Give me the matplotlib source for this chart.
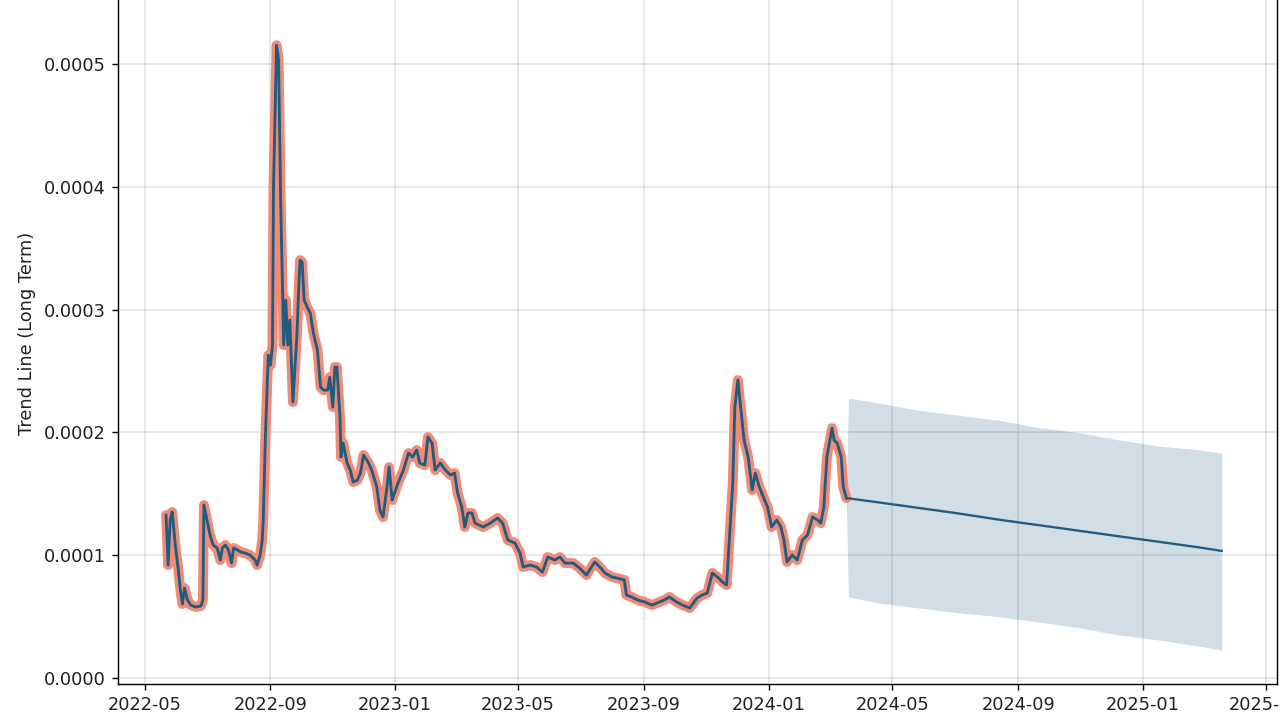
import numpy as np
import pandas as pd
import matplotlib
matplotlib.use("Agg")
import matplotlib.pyplot as plt
import matplotlib.dates as mdates
from matplotlib.ticker import FormatStrFormatter

# ---------------- data ----------------
origin = pd.Timestamp("2022-05-01")   # day offsets below count from this date
unit = 1e-4                           # values below are in units of 1e-4

hist_days = [21, 23, 25, 27, 30, 33, 35, 37, 39, 42, 45, 50, 55, 57, 58, 60, 61, 64, 67, 71,
             74, 76, 79, 82, 85, 87, 91, 94, 98, 103, 108, 110, 113, 115, 116, 118, 120, 121, 123, 125,
             126, 129, 131, 133, 135, 136, 138, 140, 142, 145, 149, 151, 152, 154, 156, 159, 162, 165, 169, 172,
             175, 179, 181, 184, 186, 188, 191, 192, 194, 198, 201, 204, 208, 211, 214, 219, 222, 227, 230, 233,
             237, 239, 242, 247, 253, 258, 262, 266, 269, 274, 277, 281, 284, 289, 294, 299, 303, 306, 310, 313,
             316, 320, 323, 331, 338, 345, 350, 355, 362, 367, 370, 377, 383, 389, 394, 401, 406, 411, 419, 425,
             432, 440, 445, 450, 457, 462, 469, 471, 476, 482, 489, 496, 501, 508, 513, 520, 526, 533, 540, 545,
             550, 555, 560, 565, 569, 572, 575, 577, 580, 583, 586, 590, 594, 597, 601, 606, 609, 613, 618, 622,
             625, 628, 633, 638, 643, 648, 653, 658, 661, 664, 667, 672, 674, 677, 681, 683, 686]
hist_vals = [1.327, 0.920, 1.287, 1.352, 1.083, 0.879, 0.717, 0.603, 0.733, 0.635, 0.594, 0.578, 0.586, 0.635, 1.409, 1.327, 1.287, 1.164, 1.083, 1.059,
             0.961, 1.059, 1.083, 1.042, 0.936, 1.059, 1.042, 1.026, 1.018, 1.002, 0.961, 0.920, 1.002, 1.124, 1.287, 1.938, 2.427, 2.630, 2.549, 2.712,
             3.998, 5.155, 5.033, 3.893, 3.078, 2.712, 3.078, 2.712, 2.915, 2.248, 2.809, 3.241, 3.404, 3.388, 3.078, 3.021, 2.972, 2.809, 2.671, 2.370,
             2.345, 2.345, 2.451, 2.207, 2.533, 2.533, 2.125, 1.800, 1.914, 1.751, 1.694, 1.596, 1.612, 1.669, 1.816, 1.751, 1.694, 1.555, 1.368, 1.311,
             1.555, 1.718, 1.450, 1.572, 1.694, 1.832, 1.800, 1.857, 1.751, 1.735, 1.963, 1.914, 1.694, 1.751, 1.694, 1.653, 1.669, 1.507, 1.393, 1.230,
             1.344, 1.344, 1.262, 1.230, 1.262, 1.303, 1.262, 1.124, 1.099, 1.018, 0.904, 0.920, 0.904, 0.863, 0.985, 0.961, 0.985, 0.936, 0.936, 0.896,
             0.839, 0.945, 0.904, 0.855, 0.822, 0.814, 0.798, 0.676, 0.660, 0.635, 0.619, 0.594, 0.611, 0.635, 0.660, 0.619, 0.594, 0.570, 0.651, 0.676,
             0.692, 0.855, 0.822, 0.782, 0.757, 1.181, 1.588, 2.207, 2.427, 2.182, 1.938, 1.800, 1.531, 1.669, 1.555, 1.450, 1.393, 1.230, 1.287, 1.230,
             1.124, 0.945, 1.002, 0.961, 1.124, 1.164, 1.311, 1.287, 1.262, 1.393, 1.800, 2.036, 1.938, 1.914, 1.800, 1.555, 1.466]
hist_band = 0.035

fc_days = [686, 718, 757, 796, 835, 874, 913, 952, 991, 1030, 1053]
fc_vals = [1.466, 1.43, 1.385, 1.34, 1.29, 1.245, 1.20, 1.155, 1.11, 1.065, 1.035]
fc_band_days = [688, 718, 757, 796, 835, 874, 913, 952, 991, 1030, 1053]
fc_upper = [2.28, 2.24, 2.18, 2.14, 2.10, 2.04, 2.00, 1.94, 1.89, 1.86, 1.83]
fc_lower = [0.66, 0.61, 0.57, 0.53, 0.50, 0.456, 0.41, 0.35, 0.31, 0.26, 0.228]

ylabel = "Trend Line (Long Term)"

# ---------------- plotting ----------------
line_c = "#215b7e"
salmon = "#ef8c79"

h_dates = origin + pd.to_timedelta(hist_days, unit="D")
h_vals = np.array(hist_vals) * unit
f_dates = origin + pd.to_timedelta(fc_days, unit="D")
f_vals = np.array(fc_vals) * unit

band_dates = origin + pd.to_timedelta(list(hist_days) + list(fc_band_days), unit="D")
band_up = np.concatenate([np.array(hist_vals) + hist_band, fc_upper]) * unit
band_lo = np.concatenate([np.array(hist_vals) - hist_band, fc_lower]) * unit

fig = plt.figure(figsize=(10, 5.625), dpi=128)
ax = fig.add_axes([118 / 1280, 36 / 720, (1277 - 118) / 1280, (684 + 18) / 720])

ax.fill_between(band_dates, band_lo, band_up, color=line_c, alpha=0.2, linewidth=0, zorder=1)
ax.plot(h_dates, h_vals, color=salmon, lw=5.6, solid_joinstyle="round", solid_capstyle="round", zorder=2)
ax.plot(h_dates, h_vals, color=line_c, lw=1.6, zorder=3)
ax.plot(f_dates, f_vals, color=line_c, lw=1.3, zorder=3)

ax.grid(True, which="major", color="gray", ls="-", lw=1, alpha=0.2)
ax.set_axisbelow(True)

ax.xaxis.set_major_locator(mdates.MonthLocator(bymonth=[1, 5, 9]))
ax.xaxis.set_major_formatter(mdates.DateFormatter("%Y-%m"))
ax.yaxis.set_major_formatter(FormatStrFormatter("%.4f"))
ax.set_yticks(np.arange(0, 0.00051, 0.0001))
ax.tick_params(labelcolor="#222222")

ax.set_xlim(pd.Timestamp("2022-04-05"), pd.Timestamp("2025-05-12"))
ax.set_ylim(-0.0000049, 0.000567)
ax.set_ylabel(ylabel, color="#222222")

fig.savefig("out.png", dpi=128)
